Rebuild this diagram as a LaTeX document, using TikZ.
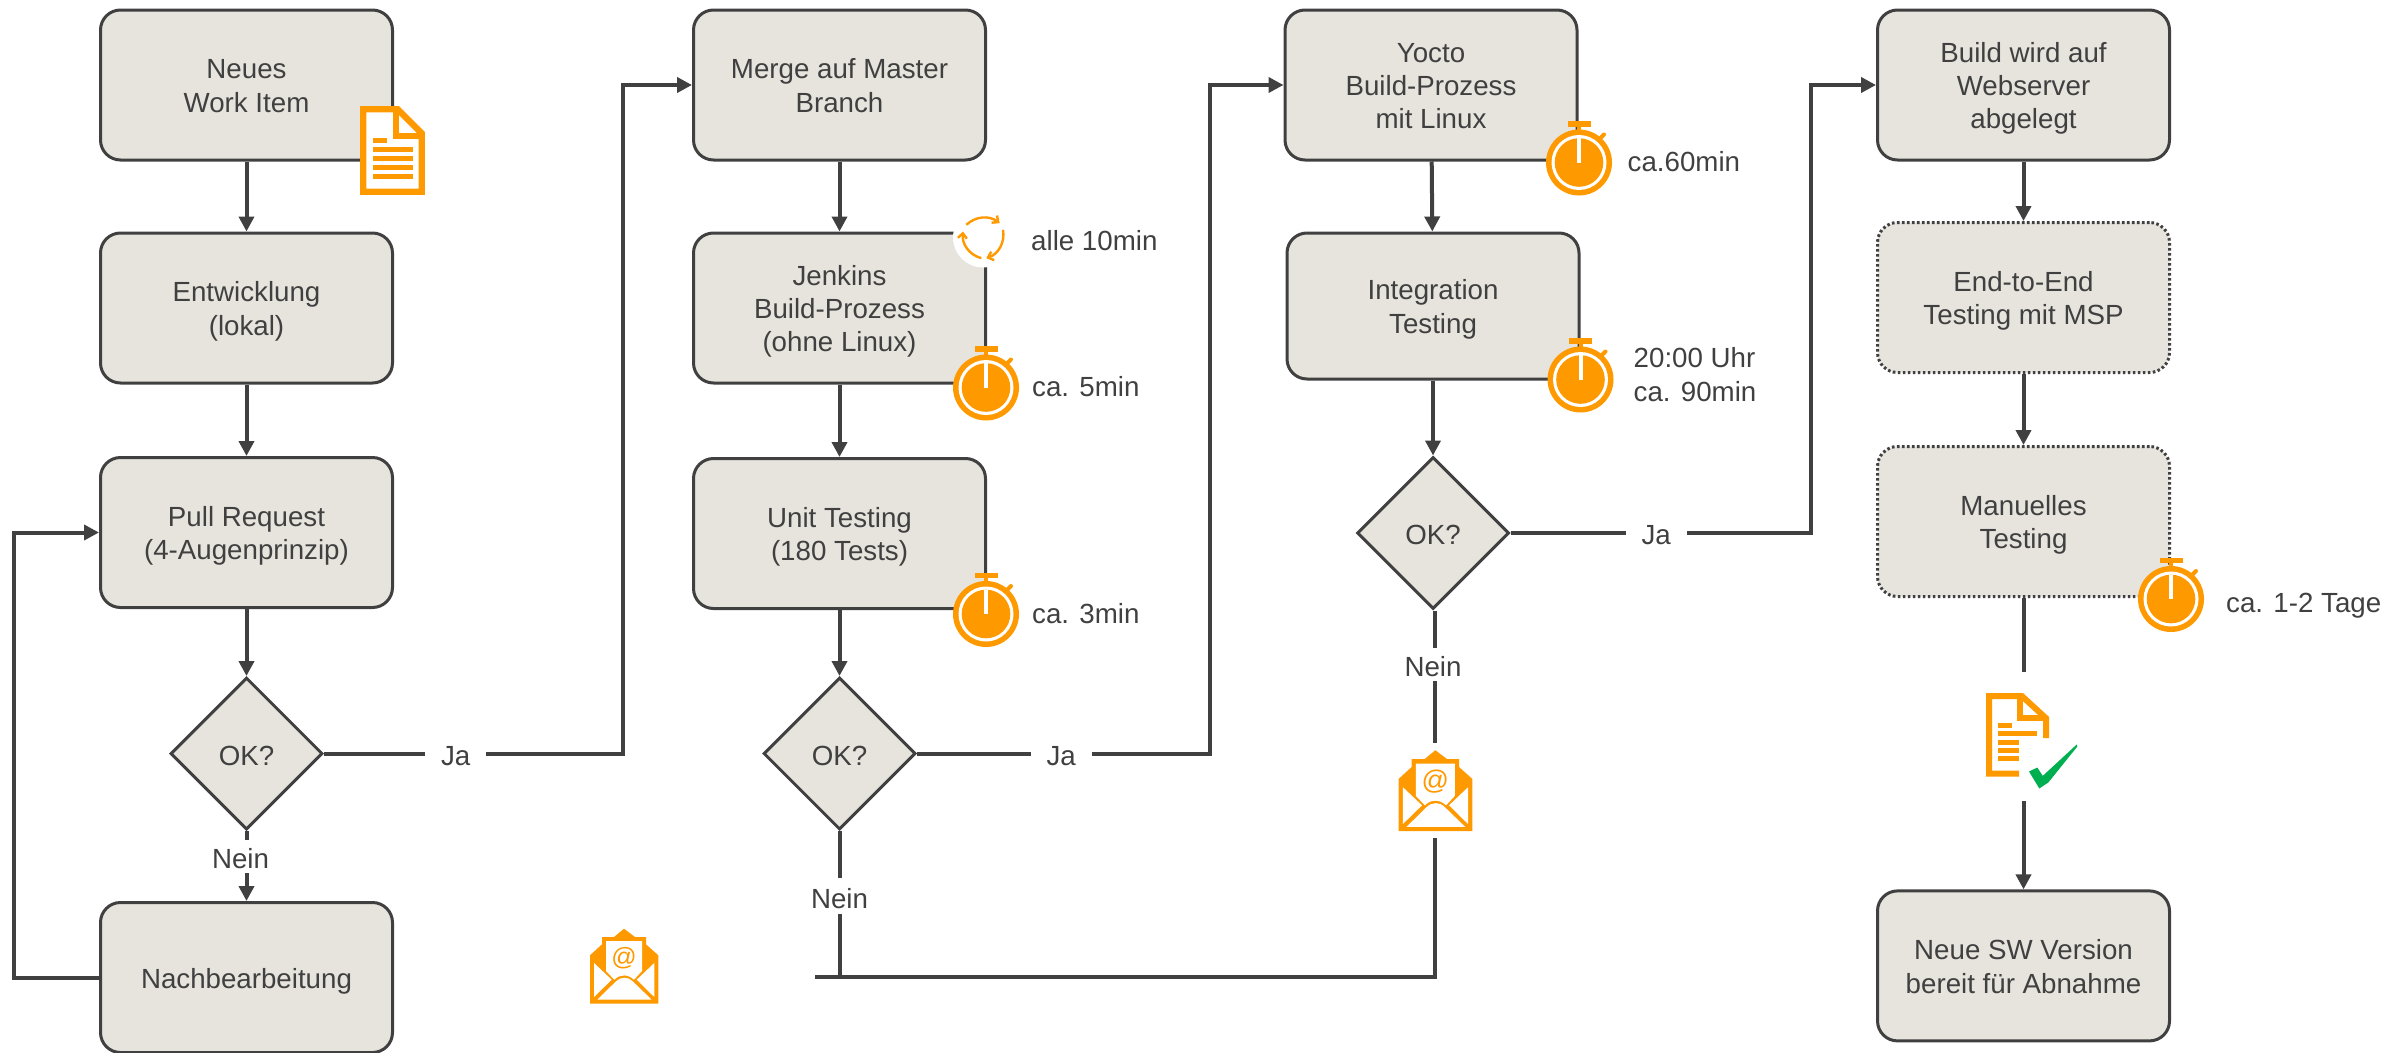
\documentclass[tikz,border=0pt]{standalone}
\usepackage{fontspec}
\setmainfont{Liberation Sans}
\usepackage{xcolor}
\usepackage{tikz}
\usetikzlibrary{arrows.meta,positioning,shapes.geometric}
\definecolor{boxfill}{HTML}{E7E3DD}
\definecolor{darkline}{HTML}{404040}
\definecolor{iconorange}{HTML}{FF9900}
\definecolor{okgreen}{HTML}{00B050}
\newcommand{\firstline}{\vrule height 27.5pt width 0pt\relax}
\tikzset{
    basetext/.style = {inner sep=0pt, text=darkline, font=\fontsize{27.7}{33.4}\selectfont},
    boxtext/.style = {basetext, execute at end node={\vrule depth 6.5pt width 0pt}},
    linetext/.style = {basetext, execute at begin node={\vrule height 24pt width 0pt}},
    stepbox/.style = {boxtext, rectangle, rounded corners=20pt, draw=darkline, line width=3pt, fill=boxfill,
        minimum width=292pt, minimum height=150pt, align=center},
    dotbox/.style = {stepbox, dash pattern=on 2.6pt off 2.4pt},
    decision/.style = {linetext, diamond, draw=darkline, line width=3pt, fill=boxfill, minimum width=152pt, minimum height=152pt},
    plaintext/.style = {linetext, align=left},
    gaptext/.style = {linetext, minimum width=61pt, minimum height=33pt, align=center},
    flow/.style = {draw=darkline, line width=4pt},
    flowarrow/.style = {flow, -{Triangle[length=15pt,width=15pt]}},
    pics/stopwatch/.style = {code = {
        \fill[iconorange] (-11.5,-41.5) rectangle (11.5,-36);
        \fill[iconorange] (-2,-37) rectangle (2,-31);
        \draw[iconorange, line width=4pt, line cap=round] (20,-23) -- (25,-28);
        \fill[iconorange] (0,0) circle (33);
        \fill[white] (0,0) circle (27.5);
        \fill[iconorange] (0,0) circle (24.3);
        \fill[white] (-2,-24.5) rectangle (2,0);
    }},
    pics/docicon/.style = {code = {
        \draw[iconorange, line width=6.3pt, fill=white, miter limit=10] (-29.3,-41.3) -- (5,-41.3) -- (29.3,-17) -- (29.3,41.3) -- (-29.3,41.3) -- cycle;
        \draw[iconorange, line width=6pt] (3.5,-41.3) -- (3.5,-14.5) -- (29.3,-14.5);
        \fill[iconorange] (-19.5,-12.5) rectangle (-5.5,-7.5);
        \foreach \rowy in {-3.5,5.5,14.5,23.5}
            \fill[iconorange] (-19.5,\rowy) rectangle (20.5,\rowy+5);
    }},
    pics/docok/.style = {code = {
        \draw[iconorange, line width=6pt] (22.5,1.5) -- (22.5,-18.5) -- (-1.5,-40.5) -- (-34.5,-40.5) -- (-34.5,37) -- (-4.5,37);
        \draw[iconorange, line width=6pt] (-3.2,-40.5) -- (-3.2,-18.5) -- (22.5,-18.5);
        \fill[iconorange] (-25.5,-13.5) rectangle (-11.5,-8.5);
        \fill[iconorange] (-25.5,-5.5) rectangle (13.5,-0.5);
        \foreach \rowy in {6,14,22}
            \fill[iconorange] (-25.5,\rowy-2.5) rectangle (-4.5,\rowy+2.5);
        \fill[okgreen] (5.5,34.8) -- (13.8,30.8) -- (19.2,39.2) -- (53.2,7.8) -- (53.8,9.8) -- (24.8,45.8) -- (15.8,51.8) -- cycle;
    }},
    pics/mailicon/.style = {code = {
        \fill[iconorange] (-34,-10.7) -- (-22,-21.7) -- (-22,-29) -- (-10,-29) -- (0,-37.3) -- (11,-29) -- (22,-29) -- (22,-21.7)
            -- (34.3,-10.7) -- (34.3,37.7) -- (-34,37.7) -- cycle;
        \fill[white] (-18,-25) -- (18,-25) -- (18,5) -- (10,13.7) .. controls (4,8) and (-4,8) .. (-9.7,13.7) -- (-18,5) -- cycle;
        \fill[white] (-30,-3) -- (-12.3,13.7) -- (-30,31) -- cycle;
        \fill[white] (30.3,-3) -- (12.7,13.7) -- (30.3,31) -- cycle;
        \fill[white] (-26.7,33.7) -- (-8,15.3) .. controls (-3,10.5) and (4,10.5) .. (8.7,15.3) -- (27.7,33.7) -- cycle;
        \node[inner sep=0pt, text=iconorange, transform shape, font=\fontsize{25}{25}\selectfont] (at) at (0,-8.3) {@};
    }},
    pics/cycleicon/.style = {code = {
        \fill[white] (0,0) circle (30);
        \draw[iconorange, line width=2.4pt, -{Straight Barb[length=5pt,width=9pt]}] (-16.7,-12.7) to[bend left=40] (16.7,-14.3);
        \draw[iconorange, line width=2.4pt, -{Straight Barb[length=5pt,width=9pt]}] (20,-7.7) to[bend left=40] (3.3,20.7);
        \draw[iconorange, line width=2.4pt, -{Straight Barb[length=5pt,width=9pt]}] (-1.7,20.7) to[bend left=40] (-20,-6);
    }},
}
\begin{document}
\begin{tikzpicture}[x=1pt, y=-1pt]
    \useasboundingbox (0,0) rectangle (2389,1052);

    % first column
    \node[stepbox] (newitem) at (246.5,85) {\firstline Neues\\Work Item};
    \node[stepbox, below=70pt of newitem] (develop) {\firstline Entwicklung\\(lokal)};
    \node[stepbox, below=71.5pt of develop] (pullreq) {\firstline Pull Request\\(4-Augenprinzip)};
    \node[decision, below=67pt of pullreq] (okpull) {OK?};
    \node[stepbox, below=70pt of okpull] (rework) {\firstline Nachbearbeitung};
    \node[gaptext, right=101pt of okpull] (japull) {Ja};
    \node[gaptext, below=9pt of okpull, xshift=-6pt] (neinpull) {Nein};

    % second column
    \node[stepbox] (merge) at (839.5,85) {\firstline Merge auf Master\\Branch};
    \node[stepbox, below=70pt of merge] (jenkins) {\firstline Jenkins\\Build-Prozess\\(ohne Linux)};
    \node[stepbox, below=72.5pt of jenkins] (unittest) {\firstline Unit Testing\\(180 Tests)};
    \node[decision, below=66pt of unittest] (okunit) {OK?};
    \node[gaptext, right=113.5pt of okunit] (jaunit) {Ja};
    \node[gaptext, minimum height=36pt, below=47pt of okunit] (neinunit) {Nein};

    % third column
    \node[stepbox] (yocto) at (1431,85) {\firstline Yocto\\Build-Prozess\\mit Linux};
    \node[stepbox, minimum height=146pt, below=70pt of yocto, xshift=2pt] (integ) {\firstline Integration\\Testing};
    \node[decision, below=75pt of integ] (okinteg) {OK?};
    \node[gaptext, right=115pt of okinteg] (jainteg) {Ja};
    \node[gaptext, below=37.5pt of okinteg] (neininteg) {Nein};
    \node[minimum width=4pt, minimum height=95pt, inner sep=0pt] (mailgap) at (1435.3,790.5) {};

    % fourth column
    \node[stepbox] (webserver) at (2023.5,85) {\firstline Build wird auf\\Webserver\\abgelegt};
    \node[dotbox, below=59.5pt of webserver] (endtoend) {\firstline End-to-End\\Testing mit MSP};
    \node[dotbox, below=71pt of endtoend] (manual) {\firstline Manuelles\\Testing};
    \node[minimum width=120pt, minimum height=129pt, inner sep=0pt, below=74pt of manual] (docgap) {};
    \node[stepbox, below=88pt of docgap] (newsw) {\firstline Neue SW Version\\bereit für Abnahme};

    \coordinate (backleft) at (13.5,533);
    \coordinate (bendpull) at (623,85);
    \coordinate (bendunit) at (1210,85);
    \coordinate (bendinteg) at (1811,85);
    \coordinate (reworkend) at (815,977);

    \draw[flowarrow] (newitem) -- (develop);
    \draw[flowarrow] (develop) -- (pullreq);
    \draw[flowarrow] (pullreq) -- (okpull);
    \draw[flow] (okpull) -- (okpull |- neinpull.north);
    \draw[flowarrow] (okpull |- neinpull.south) -- (rework);
    \draw[flow] (okpull) -- (japull);
    \draw[flowarrow] (japull) -| (bendpull) -- (merge);
    \draw[flowarrow] (rework.west) -| (backleft) |- (pullreq.west);

    \draw[flowarrow] (merge) -- (jenkins);
    \draw[flowarrow] (jenkins) -- (unittest);
    \draw[flowarrow] (unittest) -- (okunit);
    \draw[flow] (okunit) -- (jaunit);
    \draw[flowarrow] (jaunit) -| (bendunit) -- (yocto);
    \draw[flow] (okunit) -- (neinunit);
    \draw[flow] (neinunit) -- (neinunit |- reworkend);
    \draw[flow] (reworkend) -- (mailgap |- reworkend) -- (mailgap.south);

    \draw[flowarrow] (yocto) -- (integ);
    \draw[flowarrow] (integ) -- (okinteg);
    \draw[flow] (okinteg) -- (jainteg);
    \draw[flowarrow] (jainteg) -| (bendinteg) -- (webserver);
    \draw[flow] (okinteg.south -| mailgap) -- (neininteg.north -| mailgap);
    \draw[flow] (neininteg.south -| mailgap) -- (mailgap.north);

    \draw[flowarrow] (webserver) -- (endtoend);
    \draw[flowarrow] (endtoend) -- (manual);
    \draw[flow] (manual) -- (docgap);
    \draw[flowarrow] (docgap) -- (newsw);

    % icons on top of the boxes
    \pic (docnew) at (392.5,150.5) {docicon};
    \pic (cyclejenkins) at ([shift={(-4,6)}]jenkins.north east) {cycleicon};
    \pic (clockjenkins) at ([shift={(-1,3)}]jenkins.south east) {stopwatch};
    \pic (clockunit) at ([shift={(-1,4)}]unittest.south east) {stopwatch};
    \pic (clockyocto) at ([shift={(0.5,1)}]yocto.south east) {stopwatch};
    \pic (clockinteg) at ([shift={(0,-1)}]integ.south east) {stopwatch};
    \pic (clockmanual) at ([shift={(0,1)}]manual.south east) {stopwatch};
    \pic (mailrework) at (624,966) {mailicon};
    \pic[scale=1.08] (mailinteg) at (mailgap) {mailicon};
    \pic (okdoc) at (docgap) {docok};

    \node[plaintext, right=44pt of jenkins.north east, yshift=-7.2pt] (cycletime) {alle 10min};
    \node[plaintext, right=45pt of jenkins.south east] (jenkinstime) {ca. 5min};
    \node[plaintext, right=45pt of unittest.south east, yshift=-2pt] (unittime) {ca. 3min};
    \node[plaintext, right=49pt of yocto.south east, yshift=2pt] (yoctotime) {ca.60min};
    \node[plaintext, right=53pt of integ.south east, yshift=6pt] (integtime) {20:00 Uhr\\ca. 90min};
    \node[plaintext, right=55pt of manual.south east, yshift=-5pt] (manualtime) {ca. 1-2 Tage};
\end{tikzpicture}
\end{document}
